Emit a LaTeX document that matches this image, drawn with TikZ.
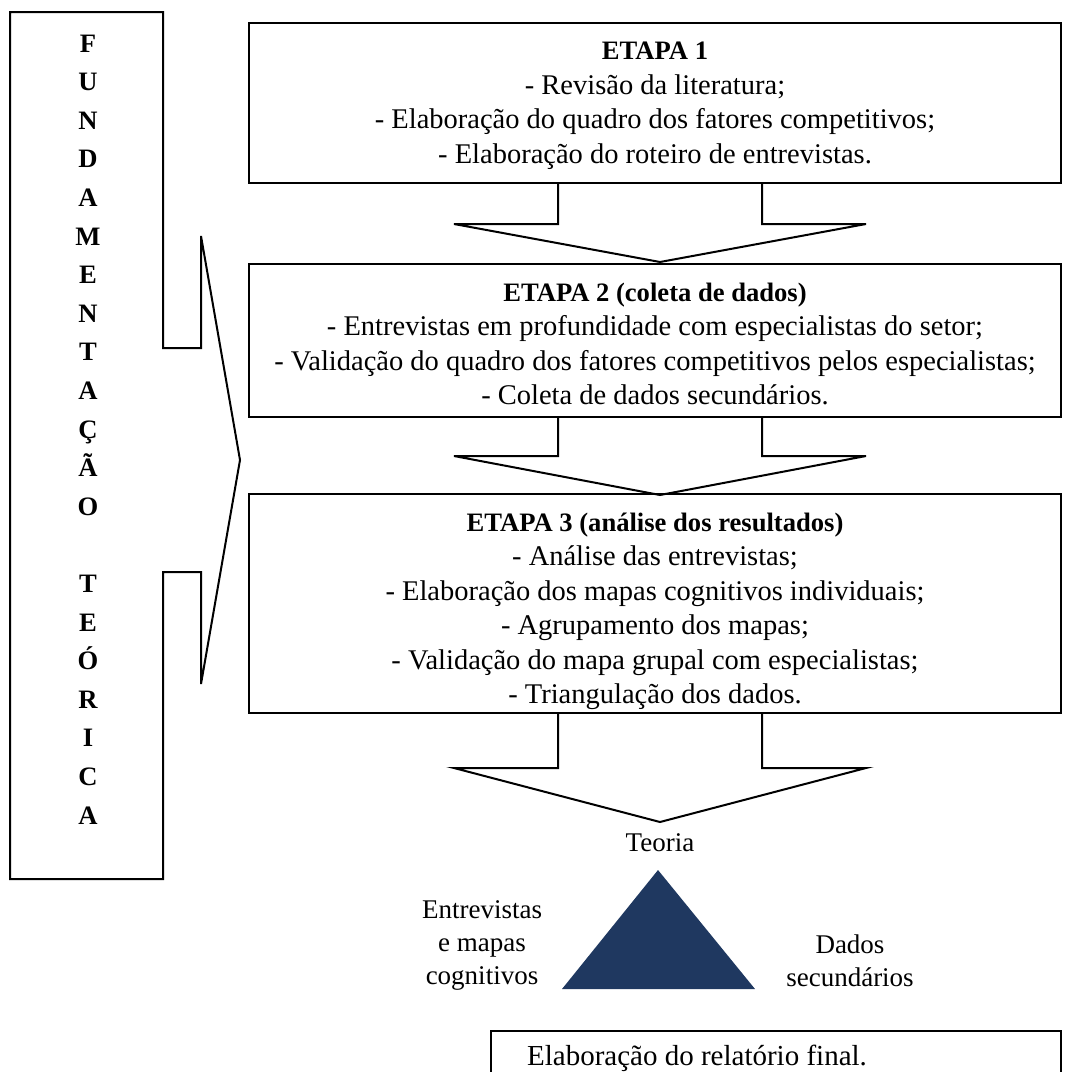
\documentclass[tikz,border=0pt]{standalone}
\usepackage{fontspec}
\setmainfont{Liberation Serif}
\usetikzlibrary{calc}
\usetikzlibrary{positioning}
\definecolor{navy}{RGB}{31,56,96}
\newcommand{\etapa}[1]{{\fontsize{26.6}{34.5}\selectfont\bfseries #1}}
% block arrow hanging from a box: #1 top centre, #2 stem length, #3 head length
\newcommand{\blockarrow}[3]{%
  \draw (#1) ++(-102,0) -- ++(0,#2) -- ++(-104,0) -- ++(206,#3) -- ++(206,-#3) -- ++(-104,0) -- ++(0,-#2);}

\begin{document}
\begin{tikzpicture}[x=1pt,y=-1pt,line width=2pt,line join=miter,
    stage box/.style={draw,rectangle,anchor=north west,inner sep=0pt,minimum width=812},
    stage text/.style={align=center,anchor=north,inner sep=0pt,font=\fontsize{28.5}{34.5}\selectfont},
    letter/.style={anchor=base,inner sep=0pt,font=\fontsize{26.6}{30}\selectfont\bfseries},
    plain label/.style={align=center,inner sep=0pt,font=\fontsize{27}{33}\selectfont}]
   \clip (0,0) rectangle (1075,1071);

   % fundamentacao teorica
   \draw (10,12) -- (163,12) -- (163,348) -- (201,348) -- (201,236) -- (240,460)
     -- (201,684) -- (201,572) -- (163,572) -- (163,879) -- (10,879) -- cycle;
   \foreach \ch [count=\i from 0] in {F,U,N,D,A,M,E,N,T,A,Ç,Ã,O,{},T,E,Ó,R,I,C,A}
     \node[letter] (l\i) at (88,{52+38.6*\i}) {\ch};

   % etapas
   \node[stage box,minimum height=160] (e1) at (248,22) {};
   \node[stage box,minimum height=153] (e2) at (248,263) {};
   \node[stage box,minimum height=219] (e3) at (248,493) {};
   \node[stage text] (t1) at ($(e1.north)+(0,19)$) {\etapa{ETAPA 1}\\
     - Revisão da literatura;\\
     - Elaboração do quadro dos fatores competitivos;\\
     - Elaboração do roteiro de entrevistas.};
   \node[stage text] (t2) at ($(e2.north)+(0,19)$) {\etapa{ETAPA 2 (coleta de dados)}\\
     - Entrevistas em profundidade com especialistas do setor;\\
     - Validação do quadro dos fatores competitivos pelos especialistas;\\
     - Coleta de dados secundários.};
   \node[stage text] (t3) at ($(e3.north)+(0,19)$) {\etapa{ETAPA 3 (análise dos resultados)}\\
     - Análise das entrevistas;\\
     - Elaboração dos mapas cognitivos individuais;\\
     - Agrupamento dos mapas;\\
     - Validação do mapa grupal com especialistas;\\
     - Triangulação dos dados.};

   \coordinate (a1) at ($(e1.south west)+(412,0)$);
   \coordinate (a2) at ($(e2.south west)+(412,0)$);
   \coordinate (a3) at ($(e3.south west)+(412,0)$);
   \blockarrow{a1}{40}{38}
   \blockarrow{a2}{38}{39}
   \blockarrow{a3}{54}{54}

   % triangulacao
   \node[plain label] (teoria) at (660,843) {Teoria};
   \fill[navy] (658,870) -- (755,989) -- (562,989) -- cycle;
   \node[plain label] (entrev) at (482,945) {Entrevistas\\e mapas\\cognitivos};
   \node[plain label] (dados) at (850,961) {Dados\\secundários};

   \node[stage box,minimum width=570,minimum height=80] (final) at (490,1030) {};
   \node[plain label,font=\fontsize{29}{34}\selectfont] (ftext) at (697,1058) {Elaboração do relatório final.};
\end{tikzpicture}
\end{document}
